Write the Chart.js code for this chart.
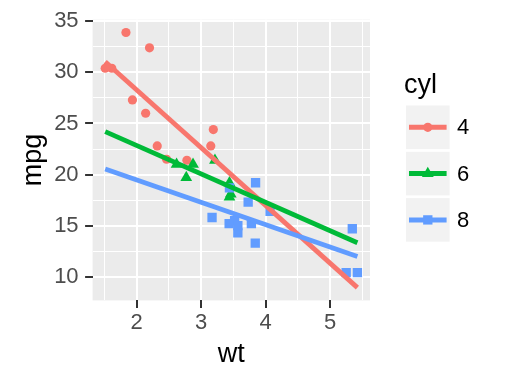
<!DOCTYPE html>
<html>
<head>
<meta charset="utf-8">
<script src="https://cdn.jsdelivr.net/npm/chart.js@4/dist/chart.umd.min.js"></script>
<style>
  html, body { margin: 0; padding: 0; background: #ffffff; }
  #wrap { width: 518px; height: 384px; position: relative; }
</style>
</head>
<body>
<div id="wrap"><canvas id="c" width="518" height="384"></canvas></div>
<script>
// ---- data ----
const cylLevels = ['4', '6', '8'];
const wt4  = [2.32, 3.19, 3.15, 2.20, 1.615, 1.835, 2.465, 1.935, 2.14, 1.513, 2.78];
const mpg4 = [22.8, 24.4, 22.8, 32.4, 30.4, 33.9, 21.5, 27.3, 26.0, 30.4, 21.4];
const wt6  = [2.62, 2.875, 3.215, 3.46, 3.44, 3.44, 2.77];
const mpg6 = [21.0, 21.0, 21.4, 18.1, 19.2, 17.8, 19.7];
const wt8  = [3.44, 3.57, 4.07, 3.73, 3.78, 5.25, 5.424, 5.345, 3.52, 3.435, 3.84, 3.845, 3.17, 3.57];
const mpg8 = [18.7, 14.3, 16.4, 17.3, 15.2, 10.4, 10.4, 14.7, 15.5, 15.2, 13.3, 19.2, 15.8, 15.0];
// fitted line end points (full range of wt)
const fitWt  = [1.513, 5.424];
const fit4   = [31.03, 8.94];
const fit6   = [24.20, 13.33];
const fit8   = [20.55, 11.98];
// axis ticks
const xTicks = [1.5, 2, 2.5, 3, 3.5, 4, 4.5, 5, 5.5];
const xMajor = [2, 3, 4, 5];
const yTicks = [10, 12.5, 15, 17.5, 20, 22.5, 25, 27.5, 30, 32.5, 35];
const yMajor = [10, 15, 20, 25, 30, 35];
const xRange = [1.3175, 5.6195];
const yRange = [7.69, 35.15];

const colors = ['#F8766D', '#00BA38', '#619CFF'];
const shapes = ['circle', 'triangle', 'rect'];
const radii  = [4.6, 6.8, 6.6];

const FONT = "'Liberation Sans', Arial, Helvetica, sans-serif";

function pts(xs, ys) { return xs.map((x, i) => ({ x: x, y: ys[i] })); }

const pointSets = [pts(wt4, mpg4), pts(wt6, mpg6), pts(wt8, mpg8)];
const lineSets = [pts(fitWt, fit4), pts(fitWt, fit6), pts(fitWt, fit8)];

const datasets = [];
cylLevels.forEach((lv, i) => {
  datasets.push({
    label: lv,
    data: pointSets[i],
    showLine: false,
    pointStyle: shapes[i],
    pointRadius: radii[i],
    pointHoverRadius: radii[i],
    pointBorderWidth: 0,
    pointBackgroundColor: colors[i],
    pointBorderColor: colors[i],
    backgroundColor: colors[i],
    borderColor: colors[i],
    order: 10 - i
  });
});
cylLevels.forEach((lv, i) => {
  datasets.push({
    label: lv + ' fit',
    data: lineSets[i],
    showLine: true,
    pointRadius: 0,
    borderWidth: 4.8,
    borderColor: colors[i],
    backgroundColor: colors[i],
    fill: false,
    order: 3 - i
  });
});

const panelBg = {
  id: 'panelBg',
  beforeDraw(chart) {
    const a = chart.chartArea, ctx = chart.ctx;
    ctx.save();
    ctx.fillStyle = '#EBEBEB';
    ctx.fillRect(a.left, a.top, a.right - a.left, a.bottom - a.top);
    ctx.restore();
  }
};

const legendPlugin = {
  id: 'ggLegend',
  afterDraw(chart) {
    const ctx = chart.ctx;
    ctx.save();
    ctx.fillStyle = '#000000';
    ctx.font = '27px ' + FONT;
    ctx.textAlign = 'left';
    ctx.textBaseline = 'alphabetic';
    ctx.fillText('cyl', 404, 93);
    const kx = 406, kw = 43.6, top0 = 105.5, step = 46.3;
    cylLevels.forEach((lv, i) => {
      const ky = top0 + i * step;
      ctx.fillStyle = '#F2F2F2';
      ctx.fillRect(kx, ky, kw, kw);
      const cy = ky + kw / 2, cx = kx + kw / 2;
      ctx.strokeStyle = colors[i];
      ctx.lineWidth = 5;
      ctx.lineCap = 'butt';
      ctx.beginPath();
      ctx.moveTo(kx + 3, cy);
      ctx.lineTo(kx + kw - 3, cy);
      ctx.stroke();
      ctx.fillStyle = colors[i];
      ctx.strokeStyle = colors[i];
      Chart.helpers.drawPoint(ctx, { pointStyle: shapes[i], rotation: 0, borderWidth: 0, radius: radii[i] }, cx, cy);
      ctx.fillStyle = '#000000';
      ctx.font = '22px ' + FONT;
      ctx.textBaseline = 'middle';
      ctx.fillText(lv, 457, cy + 1);
    });
    ctx.restore();
  }
};

new Chart(document.getElementById('c'), {
  type: 'scatter',
  data: { datasets: datasets },
  options: {
    responsive: false,
    animation: false,
    events: [],
    layout: { padding: { top: 13.7, right: 148, left: 0, bottom: 0 } },
    plugins: { legend: { display: false }, tooltip: { enabled: false } },
    scales: {
      x: {
        type: 'linear',
        min: xRange[0], max: xRange[1],
        afterBuildTicks(s) { s.ticks = xTicks.map(v => ({ value: v })); },
        afterFit(s) { s.height = 83.6; },
        border: { display: false },
        grid: {
          color: '#FFFFFF',
          lineWidth: c => xMajor.includes(c.tick && c.tick.value) ? 2 : 1,
          tickLength: 7.5,
          tickWidth: 2,
          tickColor: c => xMajor.includes(c.tick && c.tick.value) ? '#333333' : 'rgba(0,0,0,0)'
        },
        ticks: {
          autoSkip: false, maxRotation: 0, padding: 1.5,
          color: '#4D4D4D',
          font: { family: FONT, size: 22 },
          callback: v => xMajor.includes(v) ? String(v) : ''
        },
        title: { display: true, text: 'wt', color: '#000000', font: { family: FONT, size: 27 }, padding: { top: 0, bottom: 13 } }
      },
      y: {
        type: 'linear',
        min: yRange[0], max: yRange[1],
        afterBuildTicks(s) { s.ticks = yTicks.map(v => ({ value: v })); },
        afterFit(s) { s.width = 92.6; },
        border: { display: false },
        grid: {
          color: '#FFFFFF',
          lineWidth: c => yMajor.includes(c.tick && c.tick.value) ? 2 : 1,
          tickLength: 7.5,
          tickWidth: 2,
          tickColor: c => yMajor.includes(c.tick && c.tick.value) ? '#333333' : 'rgba(0,0,0,0)'
        },
        ticks: {
          autoSkip: false, padding: 6.5,
          color: '#4D4D4D',
          font: { family: FONT, size: 22 },
          callback: v => yMajor.includes(v) ? String(v) : ''
        },
        title: { display: true, text: 'mpg', color: '#000000', font: { family: FONT, size: 27 }, padding: { top: 17.5, bottom: 0 } }
      }
    }
  },
  plugins: [panelBg, legendPlugin]
});
</script>
</body>
</html>
